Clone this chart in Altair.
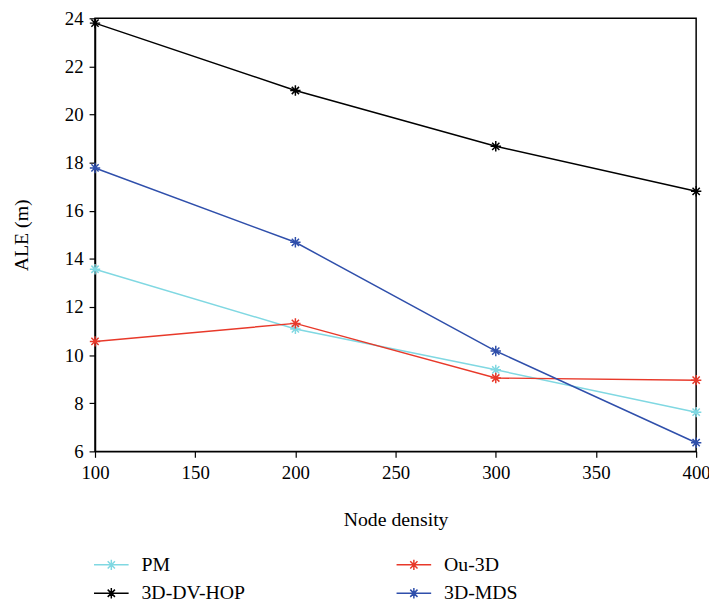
import altair as alt
import pandas as pd

node_density = [100, 200, 300, 400]
series_names = ["PM", "3D-DV-HOP", "Ou-3D", "3D-MDS"]
pm = [13.57, 11.09, 9.39, 7.63]
dvhop = [23.8, 21.0, 18.68, 16.81]
ou3d = [10.57, 11.32, 9.05, 8.96]
mds = [17.78, 14.69, 10.17, 6.36]
colors = ["#80d8e2", "#000000", "#e8392a", "#2f4fab"]

rows = []
for name, vals in zip(series_names, [pm, dvhop, ou3d, mds]):
    for x, v in zip(node_density, vals):
        rows.append({"x": x, "y": v, "series": name})
df = pd.DataFrame(rows)

FONT = "Liberation Serif"
star = "M0,-1V1M-1,0H1M-0.7,-0.7L0.7,0.7M-0.7,0.7L0.7,-0.7"
legend_sym = "M-1,0H1M0,-0.3V0.3M-0.3,0H0.3M-0.21,-0.21L0.21,0.21M-0.21,0.21L0.21,-0.21"

color = alt.Color(
    "series:N",
    scale=alt.Scale(domain=series_names, range=colors),
    sort=series_names,
    legend=alt.Legend(
        title=None,
        orient="none",
        legendX=-2,
        legendY=534,
        columns=2,
        columnPadding=150,
        rowPadding=-1,
        symbolType=legend_sym,
        symbolSize=1225,
        symbolStrokeWidth=1.5,
        symbolFillColor="transparent",
        labelFont=FONT,
        labelFontSize=20,
        labelColor="black",
        labelOffset=12,
        labelLimit=300,
    ),
)

x_enc = alt.X(
    "x:Q",
    scale=alt.Scale(domain=[100, 400], nice=False, zero=False),
    axis=alt.Axis(values=[100, 150, 200, 250, 300, 350, 400], title="Node density",
                  titlePadding=28, labelFlush=False),
)
y_enc = alt.Y(
    "y:Q",
    scale=alt.Scale(domain=[6, 24], nice=False, zero=False),
    axis=alt.Axis(values=list(range(6, 25, 2)), title="ALE (m)", titlePadding=33,
                  labelFlush=False),
)

lines = alt.Chart(df).mark_line(strokeWidth=1.5).encode(x=x_enc, y=y_enc, color=color)
points = alt.Chart(df).mark_point(shape=star, size=110, filled=False, strokeWidth=1.5, opacity=1).encode(
    x="x:Q", y="y:Q",
    color=alt.Color("series:N", scale=alt.Scale(domain=series_names, range=colors), legend=None),
)

chart = (
    alt.layer(lines, points)
    .properties(width=608, height=438,
                background="white",
                autosize=alt.AutoSizeParams(type="none"),
                padding={"left": 88, "top": 7, "right": 13, "bottom": 156})
    .configure_view(stroke="black", strokeWidth=1.5)
    .configure_axis(
        grid=False,
        domainColor="black",
        domainWidth=1.5,
        tickColor="black",
        tickSize=6,
        tickWidth=1.2,
        labelFont=FONT,
        labelFontSize=19,
        labelColor="black",
        labelPadding=6,
        titleFont=FONT,
        titleFontSize=20,
        titleFontWeight="normal",
        titleColor="black",
    )
)

chart.save("out.html", embed_options={"renderer": "svg", "actions": False})
